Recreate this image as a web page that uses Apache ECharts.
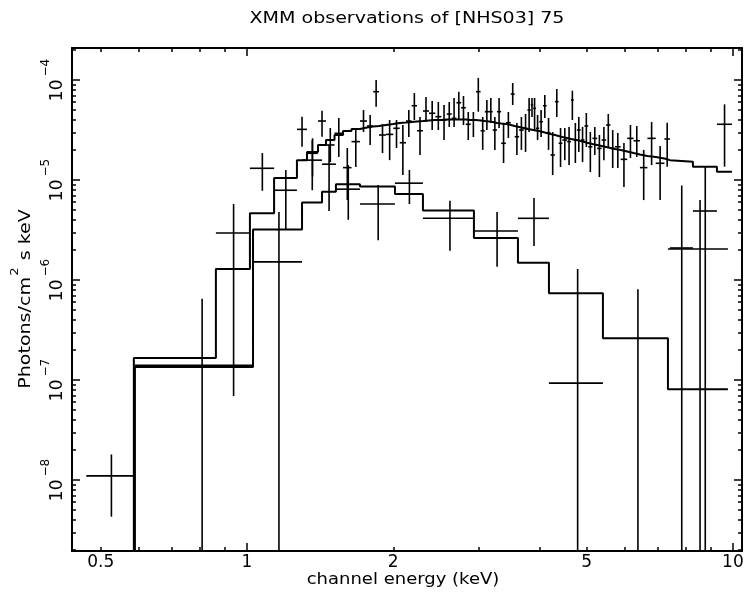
<!DOCTYPE html>
<html><head><meta charset="utf-8">
<script src="https://cdn.jsdelivr.net/npm/echarts@6/dist/echarts.min.js"></script>
<style>html,body{margin:0;padding:0;background:#fff}#c{width:745px;height:600px}</style>
</head><body><div id="c"></div>
<script>
// ---------- text ----------
const titleText = 'XMM observations of [NHS03] 75';
const xTitle = 'channel energy (keV)';
const yTitleMain = 'Photons/cm';
const yTitleSup = '2';
const yTitleTail = ' s keV';

// ---------- axes ----------
const X_MIN = 0.4364, X_MAX = 10.44;
const Y_MIN = 1.95e-9, Y_MAX = 2.09e-4;
const xLabelValues = [0.5, 1, 2, 5, 10];
const xMajorTicks = [1, 10];
const xMinorTicks = [0.5, 0.6, 0.7, 0.8, 0.9, 2, 3, 4, 5, 6, 7, 8, 9];
const yLabelValues = [1e-8, 1e-7, 1e-6, 1e-5, 1e-4];
const yMinorMantissa = [2, 3, 4, 5, 6, 7, 8, 9];

// ---------- pn camera (upper spectrum): bins, data, model ----------
const pnEdges = [0.467, 0.585, 0.863, 1.014, 1.137, 1.267, 1.329, 1.400, 1.454, 1.514, 1.576, 1.641, 1.708, 1.766, 1.819, 1.869, 1.932, 2.000, 2.062, 2.124, 2.182, 2.238, 2.302, 2.369, 2.441, 2.511, 2.577, 2.638, 2.698, 2.759, 2.820, 2.887, 2.960, 3.025, 3.086, 3.147, 3.204, 3.269, 3.335, 3.411, 3.490, 3.555, 3.631, 3.710, 3.777, 3.837, 3.882, 3.932, 3.994, 4.065, 4.137, 4.212, 4.302, 4.379, 4.458, 4.559, 4.642, 4.704, 4.775, 4.860, 4.948, 5.038, 5.139, 5.255, 5.368, 5.484, 5.597, 5.718, 5.874, 6.060, 6.247, 6.436, 6.669, 6.937, 7.228, 7.420, 8.274, 9.270, 9.953];
const pnFlux = [1.1e-8, null, 2.95e-6, 1.31e-5, 7.9e-6,
  3.21e-5, 1.85e-5, 3.89e-5, 2.24e-5, 2.93e-5, 1.33e-5, 2.42e-5, 3.89e-5, 3.47e-5, 7.64e-5,
  2.82e-5, 2.86e-5, 3.29e-5, 2.36e-5, 3.89e-5, 5.53e-5, 3.11e-5, 4.90e-5, 4.65e-5, 4.30e-5,
  3.98e-5, 4.57e-5, 4.14e-5, 5.93e-5, 5.28e-5, 3.61e-5, 3.98e-5, 7.64e-5, 3.11e-5, 4.82e-5,
  4.82e-5, 3.16e-5, 4.82e-5, 2.33e-5, 3.74e-5, 7.24e-5, 2.71e-5, 3.16e-5, 3.29e-5, 5.01e-5,
  5.62e-5, 5.21e-5, 3.29e-5, 3.83e-5, 5.53e-5, 2.97e-5, 1.78e-5, 6.07e-5, 2.33e-5, 2.51e-5,
  2.42e-5, 6.31e-5, 2.51e-5, 3.16e-5, 2.51e-5, 3.47e-5, 2.15e-5, 2.61e-5, 2.07e-5, 2.51e-5,
  3.55e-5, 2.07e-5, 2.15e-5, 1.61e-5, 2.61e-5, 2.47e-5, 1.33e-5, 2.61e-5, 1.47e-5, 2.57e-5,
  2.09e-6, 4.9e-6, 3.61e-5];
const pnFluxHi = [1.8e-8, null, 5.75e-6, 1.86e-5, 1.26e-5,
  4.30e-5, 2.61e-5, 4.93e-5, 3.31e-5, 4.17e-5, 2.09e-5, 3.16e-5, 5.01e-5, 4.47e-5, 1.0e-4,
  3.63e-5, 3.98e-5, 3.98e-5, 3.55e-5, 5.01e-5, 7.41e-5, 4.27e-5, 6.76e-5, 6.17e-5, 6.03e-5,
  5.62e-5, 6.03e-5, 6.61e-5, 7.64e-5, 6.92e-5, 4.79e-5, 4.79e-5, 1.05e-4, 4.27e-5, 6.31e-5,
  6.61e-5, 4.27e-5, 6.61e-5, 3.72e-5, 4.79e-5, 9.33e-5, 3.72e-5, 4.27e-5, 4.57e-5, 6.61e-5,
  6.61e-5, 6.61e-5, 4.47e-5, 5.01e-5, 7.08e-5, 4.17e-5, 3.02e-5, 8.13e-5, 3.31e-5, 3.31e-5,
  3.39e-5, 7.82e-5, 3.72e-5, 4.27e-5, 3.39e-5, 4.68e-5, 3.02e-5, 3.39e-5, 2.82e-5, 3.39e-5,
  4.57e-5, 3.16e-5, 2.95e-5, 2.34e-5, 3.55e-5, 3.47e-5, 2.0e-5, 3.80e-5, 2.19e-5, 3.74e-5,
  8.8e-6, 1.36e-5, 5.71e-5];
const pnFluxLo = [4.3e-9, null, 6.9e-8, 7.8e-6, 3.2e-6,
  2.15e-5, 1.08e-5, 2.71e-5, 1.51e-5, 1.70e-5, 6.3e-6, 1.35e-5, 3.02e-5, 2.24e-5, 5.41e-5,
  1.86e-5, 1.58e-5, 2.09e-5, 1.12e-5, 2.69e-5, 3.98e-5, 1.78e-5, 3.80e-5, 3.16e-5, 3.16e-5,
  2.51e-5, 3.39e-5, 3.39e-5, 3.98e-5, 3.55e-5, 2.51e-5, 2.69e-5, 4.82e-5, 2.0e-5, 3.16e-5,
  3.72e-5, 2.0e-5, 3.31e-5, 1.48e-5, 2.63e-5, 5.62e-5, 1.78e-5, 2.0e-5, 1.91e-5, 3.02e-5,
  4.27e-5, 3.16e-5, 2.51e-5, 2.69e-5, 4.17e-5, 2.0e-5, 1.12e-5, 4.27e-5, 1.35e-5, 1.58e-5,
  1.41e-5, 3.98e-5, 1.48e-5, 1.91e-5, 1.51e-5, 2.14e-5, 1.20e-5, 1.78e-5, 1.07e-5, 1.58e-5,
  2.14e-5, 1.32e-5, 1.32e-5, 8.5e-6, 1.66e-5, 1.70e-5, 6.3e-6, 1.41e-5, 6.3e-6, 1.36e-5,
  0, 0, 1.36e-5];
const pnModel = [null, 1.66e-7, 1.29e-6, 4.65e-6, 1.05e-5,
  1.58e-5, 1.91e-5, 2.24e-5, 2.51e-5, 2.82e-5, 3.09e-5, 3.24e-5, 3.35e-5, 3.43e-5, 3.47e-5,
  3.55e-5, 3.63e-5, 3.72e-5, 3.76e-5, 3.80e-5, 3.85e-5, 3.89e-5, 3.94e-5, 3.98e-5, 3.98e-5,
  4.03e-5, 4.03e-5, 4.03e-5, 4.03e-5, 4.03e-5, 3.98e-5, 3.98e-5, 3.94e-5, 3.89e-5, 3.85e-5,
  3.80e-5, 3.72e-5, 3.67e-5, 3.63e-5, 3.55e-5, 3.47e-5, 3.39e-5, 3.31e-5, 3.24e-5, 3.20e-5,
  3.16e-5, 3.13e-5, 3.09e-5, 3.02e-5, 2.95e-5, 2.88e-5, 2.82e-5, 2.75e-5, 2.69e-5, 2.63e-5,
  2.57e-5, 2.54e-5, 2.51e-5, 2.45e-5, 2.40e-5, 2.34e-5, 2.29e-5, 2.24e-5, 2.19e-5, 2.14e-5,
  2.09e-5, 2.04e-5, 2.0e-5, 1.93e-5, 1.86e-5, 1.80e-5, 1.74e-5, 1.70e-5, 1.64e-5, 1.58e-5,
  1.52e-5, 1.36e-5, 1.21e-5];

// ---------- MOS camera (lower spectrum): bins, data, model ----------
const mosEdges = [0.588, 1.029, 1.298, 1.427, 1.524, 1.708, 2.016, 2.302, 2.931, 3.611, 4.182, 5.401, 7.350, 9.766];
const mosFlux   = [1.4e-7, 1.52e-6, 1.58e-5, 1.44e-5, 8.1e-6, 5.75e-6, 9.3e-6, 4.14e-6, 3.09e-6, 4.14e-6, 9.3e-8, 0, 2.04e-6];
const mosFluxHi = [6.5e-7, 4.79e-6, 2.51e-5, 2.24e-5, 1.41e-5, 8.9e-6, 1.26e-5, 6.2e-6, 4.8e-6, 6.6e-6, 1.29e-6, 8.1e-7, 6.3e-6];
const mosFluxLo = [0, 0, 7.9e-6, 4.9e-6, 4.0e-6, 2.5e-6, 5.75e-6, 1.96e-6, 1.36e-6, 2.19e-6, 0, 0, 0];
const mosModel  = [1.35e-7, 3.2e-6, 5.96e-6, 7.64e-6, 9.06e-6, 8.61e-6, 7.24e-6, 4.95e-6, 2.63e-6, 1.49e-6, 7.36e-7, 2.61e-7, 8.07e-8];

// ---------- build ----------
const FONT = 'DejaVu Sans';
const INK = '#000';

function crossRows(edges, flux, hi, lo) {
  const rows = [];
  for (let i = 0; i < flux.length; i++) {
    if (flux[i] === null) continue;
    rows.push([edges[i], edges[i + 1], flux[i], lo[i], hi[i]]);
  }
  return rows;
}
function stepRows(edges, vals) {
  const pts = [];
  let first = true;
  for (let i = 0; i < vals.length; i++) {
    if (vals[i] === null) continue;
    if (first) { pts.push([edges[i], Y_MIN]); first = false; }
    pts.push([edges[i], vals[i]]);
  }
  pts.push([edges[vals.length], vals[vals.length - 1]]);
  return pts;
}
const yMinorTicks = [];
for (let e = -9; e <= -4; e++) {
  yMinorMantissa.forEach(m => { const v = m * Math.pow(10, e); if (v > Y_MIN && v < Y_MAX) yMinorTicks.push(v); });
}

function renderCross(params, api) {
  const lo = api.value(0), hi = api.value(1), v = api.value(2), vl = api.value(3), vh = api.value(4);
  const cs = params.coordSys;
  const top = cs.y, bottom = cs.y + cs.height;
  const style = { stroke: INK, lineWidth: 1.6 };
  const children = [];
  const xc = (lo + hi) / 2;
  if (v > 0) {
    const a = api.coord([lo, v]), b = api.coord([hi, v]);
    if (a[1] <= bottom && a[1] >= top) children.push({ type: 'line', shape: { x1: a[0], y1: a[1], x2: b[0], y2: b[1] }, style });
  }
  const pt = api.coord([xc, vh]);
  const yBot = vl > 0 ? api.coord([xc, vl])[1] : bottom;
  children.push({ type: 'line', shape: { x1: pt[0], y1: Math.max(pt[1], top), x2: pt[0], y2: Math.min(yBot, bottom) }, style });
  return { type: 'group', children };
}

function xAx(pos, ticks, len, showLine, withLabels) {
  return {
    type: 'log', logBase: 10, min: X_MIN, max: X_MAX, position: pos, gridIndex: 0,
    axisLine: { show: showLine, onZero: false, lineStyle: { color: INK, width: 2 } },
    axisTick: { show: true, inside: true, length: len, customValues: ticks, lineStyle: { color: INK, width: 1.5 } },
    axisLabel: withLabels ? {
      show: true, customValues: xLabelValues, margin: 3, color: INK, fontFamily: FONT, fontSize: 17,
      formatter: v => String(+(+v).toPrecision(3))
    } : { show: false },
    splitLine: { show: false }, minorTick: { show: false }, minorSplitLine: { show: false }
  };
}
function yAx(pos, ticks, len, showLine, withLabels) {
  return {
    type: 'log', logBase: 10, min: Y_MIN, max: Y_MAX, position: pos, gridIndex: 0,
    axisLine: { show: showLine, onZero: false, lineStyle: { color: INK, width: 2 } },
    axisTick: { show: true, inside: true, length: len, customValues: ticks, lineStyle: { color: INK, width: 1.5 } },
    axisLabel: withLabels ? {
      show: true, customValues: yLabelValues, rotate: 90, margin: 6, color: INK, fontFamily: FONT,
      formatter: v => '{b|10}{e|\u2212' + (-Math.round(Math.log10(v))) + '}',
      rich: {
        b: { fontFamily: FONT, fontSize: 17, color: INK, lineHeight: 26, verticalAlign: 'bottom' },
        e: { fontFamily: FONT, fontSize: 12, color: INK, verticalAlign: 'top', padding: [0, 0, 0, 3] }
      }
    } : { show: false },
    splitLine: { show: false }, minorTick: { show: false }, minorSplitLine: { show: false }
  };
}

const option = {
  animation: false,
  backgroundColor: '#fff',
  grid: { left: 72, top: 48, right: 3, bottom: 49, containLabel: false, outerBoundsMode: 'none' },
  xAxis: [
    xAx('bottom', xMajorTicks, 8, true, true),
    xAx('bottom', xMinorTicks, 4, false, false),
    xAx('top', xMajorTicks, 8, true, false),
    xAx('top', xMinorTicks, 4, false, false)
  ],
  yAxis: [
    yAx('left', yLabelValues, 8, true, true),
    yAx('left', yMinorTicks, 4, false, false),
    yAx('right', yLabelValues, 8, true, false),
    yAx('right', yMinorTicks, 4, false, false)
  ],
  graphic: [
    { type: 'text', x: 407, y: 19, scaleX: 1.19, style: { text: titleText, fontFamily: FONT, fontSize: 16, fill: INK, align: 'center', verticalAlign: 'middle' } },
    { type: 'text', x: 403, y: 580, scaleX: 1.2, style: { text: xTitle, fontFamily: FONT, fontSize: 15, fill: INK, align: 'center', verticalAlign: 'middle' } },
    { type: 'text', x: 22, y: 299, rotation: Math.PI / 2, scaleX: 1.19, style: {
        text: '{b|' + yTitleMain + '}{e|' + yTitleSup + '}{b|' + yTitleTail + '}', align: 'center', verticalAlign: 'middle',
        rich: { b: { fontFamily: FONT, fontSize: 16, fill: INK, lineHeight: 24, verticalAlign: 'bottom' },
                e: { fontFamily: FONT, fontSize: 11, fill: INK, verticalAlign: 'top', padding: [0, 1, 0, 1] } } } }
  ],
  series: [
    { name: 'pn model', type: 'line', step: 'end', xAxisIndex: 0, yAxisIndex: 0, data: stepRows(pnEdges, pnModel),
      symbol: 'none', clip: true, lineStyle: { color: INK, width: 2 } },
    { name: 'MOS model', type: 'line', step: 'end', xAxisIndex: 0, yAxisIndex: 0, data: stepRows(mosEdges, mosModel),
      symbol: 'none', clip: true, lineStyle: { color: INK, width: 2 } },
    { name: 'pn data', type: 'custom', xAxisIndex: 0, yAxisIndex: 0, renderItem: renderCross, clip: true,
      encode: { x: [0, 1], y: [4] }, data: crossRows(pnEdges, pnFlux, pnFluxHi, pnFluxLo) },
    { name: 'MOS data', type: 'custom', xAxisIndex: 0, yAxisIndex: 0, renderItem: renderCross, clip: true,
      encode: { x: [0, 1], y: [4] }, data: crossRows(mosEdges, mosFlux, mosFluxHi, mosFluxLo) }
  ]
};
const chart = echarts.init(document.getElementById('c'), null, { renderer: 'canvas' });
chart.setOption(option);
</script>
</body></html>
